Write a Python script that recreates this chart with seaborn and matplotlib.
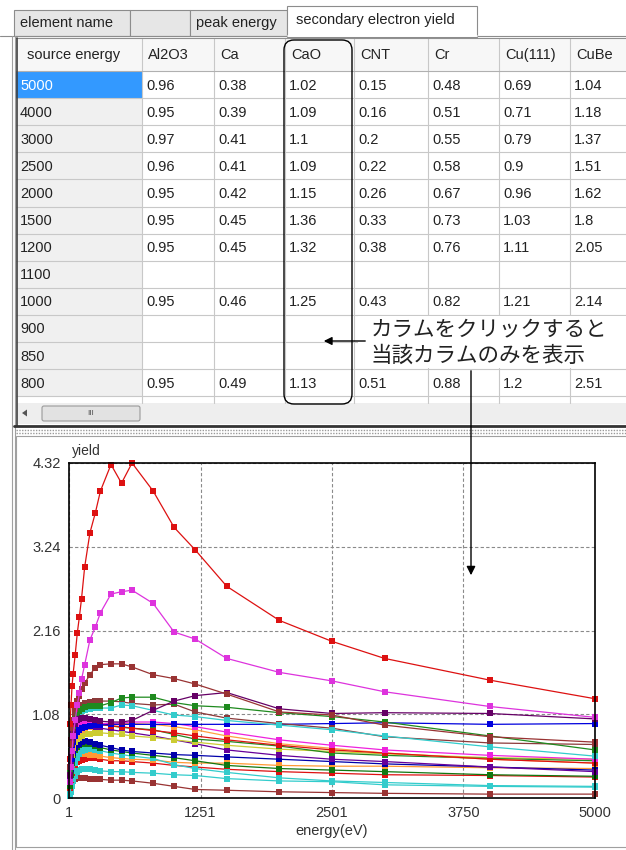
import matplotlib
matplotlib.use("Agg")
import matplotlib.pyplot as plt
from matplotlib.patches import Rectangle, FancyBboxPatch, FancyArrowPatch, Polygon
import pandas as pd
import seaborn as sns

# energies of the measured points (eV)
energy = [10, 20, 30, 40, 60, 80, 100, 120, 150, 200, 250, 300, 400, 500, 600,
          800, 1000, 1200, 1500, 2000, 2500, 3000, 4000, 5000]

al2o3 = [0.30, 0.50, 0.65, 0.72, 0.80, 0.85, 0.88, 0.90, 0.92, 0.93, 0.94, 0.94, 0.95, 0.95, 0.95,
         0.95, 0.95, 0.95, 0.95, 0.95, 0.96, 0.97, 0.95, 0.96]
ca = [0.20, 0.35, 0.45, 0.50, 0.55, 0.57, 0.58, 0.58, 0.57, 0.56, 0.55, 0.54, 0.52, 0.51, 0.50,
      0.49, 0.46, 0.45, 0.45, 0.42, 0.41, 0.41, 0.39, 0.38]
cao = [0.30, 0.55, 0.75, 0.85, 0.95, 1.00, 1.02, 1.03, 1.03, 1.02, 1.00, 0.99, 0.98, 0.98, 1.00,
       1.13, 1.25, 1.32, 1.36, 1.15, 1.09, 1.10, 1.09, 1.02]
cnt = [0.05, 0.15, 0.25, 0.35, 0.45, 0.52, 0.57, 0.60, 0.62, 0.63, 0.62, 0.61, 0.58, 0.56, 0.54,
       0.51, 0.43, 0.38, 0.33, 0.26, 0.22, 0.20, 0.16, 0.15]
cr = [0.30, 0.50, 0.65, 0.75, 0.85, 0.90, 0.93, 0.95, 0.96, 0.97, 0.96, 0.95, 0.93, 0.91, 0.90,
      0.88, 0.82, 0.76, 0.73, 0.67, 0.58, 0.55, 0.51, 0.48]
cu111 = [0.40, 0.70, 0.90, 1.00, 1.10, 1.15, 1.18, 1.20, 1.22, 1.24, 1.25, 1.25, 1.25, 1.24, 1.22,
         1.20, 1.21, 1.11, 1.03, 0.96, 0.90, 0.79, 0.71, 0.69]
cube = [0.20, 0.40, 0.60, 0.80, 1.00, 1.20, 1.35, 1.53, 1.72, 2.04, 2.20, 2.39, 2.63, 2.66, 2.68,
        2.51, 2.14, 2.05, 1.80, 1.62, 1.51, 1.37, 1.18, 1.04]
red_top = [0.95, 1.20, 1.45, 1.60, 1.85, 2.13, 2.34, 2.57, 2.98, 3.42, 3.67, 3.96, 4.30, 4.06, 4.32,
           3.96, 3.49, 3.20, 2.73, 2.29, 2.02, 1.80, 1.52, 1.28]
maroon = [0.40, 0.70, 0.90, 1.00, 1.15, 1.25, 1.32, 1.40, 1.48, 1.59, 1.68, 1.72, 1.73, 1.73, 1.69,
          1.59, 1.54, 1.47, 1.34, 1.11, 1.07, 0.94, 0.79, 0.72]
teal_upper = [0.30, 0.55, 0.75, 0.88, 1.00, 1.06, 1.10, 1.12, 1.14, 1.15, 1.16, 1.16, 1.16, 1.20, 1.19,
              1.13, 1.07, 1.05, 1.00, 0.94, 0.88, 0.80, 0.66, 0.54]
green_top = [0.35, 0.60, 0.80, 0.92, 1.02, 1.08, 1.12, 1.15, 1.17, 1.19, 1.19, 1.19, 1.23, 1.29, 1.30,
             1.30, 1.23, 1.19, 1.17, 1.10, 1.05, 0.98, 0.80, 0.62]
teal_lower = [0.02, 0.08, 0.15, 0.22, 0.28, 0.33, 0.36, 0.38, 0.38, 0.37, 0.36, 0.35, 0.34, 0.34, 0.33,
              0.32, 0.30, 0.29, 0.25, 0.22, 0.21, 0.17, 0.15, 0.14]
brown_bottom = [0.05, 0.12, 0.18, 0.22, 0.25, 0.26, 0.26, 0.26, 0.26, 0.25, 0.24, 0.24, 0.23, 0.23, 0.22,
                0.19, 0.15, 0.11, 0.10, 0.08, 0.07, 0.06, 0.05, 0.05]
red_lower = [0.10, 0.20, 0.30, 0.37, 0.42, 0.46, 0.48, 0.49, 0.50, 0.51, 0.51, 0.50, 0.48, 0.48, 0.47,
             0.45, 0.42, 0.40, 0.37, 0.34, 0.32, 0.30, 0.29, 0.27]
orange = [0.30, 0.50, 0.62, 0.70, 0.78, 0.83, 0.86, 0.88, 0.90, 0.92, 0.94, 0.95, 0.96, 0.96, 0.96,
          0.95, 0.92, 0.88, 0.80, 0.70, 0.64, 0.58, 0.50, 0.45]
violet = [0.25, 0.45, 0.60, 0.70, 0.80, 0.85, 0.88, 0.90, 0.92, 0.93, 0.92, 0.90, 0.88, 0.86, 0.84,
          0.80, 0.75, 0.70, 0.62, 0.55, 0.50, 0.47, 0.40, 0.34]
pink = [0.30, 0.55, 0.72, 0.82, 0.90, 0.94, 0.96, 0.97, 0.98, 0.98, 0.97, 0.96, 0.96, 0.97, 0.98,
        0.98, 0.96, 0.92, 0.85, 0.75, 0.68, 0.62, 0.55, 0.50]
olive = [0.20, 0.40, 0.55, 0.65, 0.72, 0.76, 0.78, 0.80, 0.82, 0.83, 0.84, 0.84, 0.83, 0.82, 0.80,
         0.78, 0.75, 0.72, 0.68, 0.63, 0.60, 0.57, 0.52, 0.50]
dark_green = [0.15, 0.30, 0.45, 0.55, 0.62, 0.66, 0.68, 0.70, 0.70, 0.69, 0.67, 0.65, 0.62, 0.60, 0.58,
              0.55, 0.52, 0.48, 0.42, 0.38, 0.36, 0.34, 0.30, 0.28]
red_mid = [0.50, 0.75, 0.88, 0.94, 0.98, 1.00, 1.00, 0.99, 0.98, 0.97, 0.96, 0.95, 0.93, 0.92, 0.90,
           0.87, 0.84, 0.80, 0.75, 0.68, 0.62, 0.58, 0.50, 0.45]
navy = [0.20, 0.38, 0.50, 0.58, 0.64, 0.68, 0.70, 0.72, 0.73, 0.72, 0.70, 0.68, 0.65, 0.62, 0.60,
        0.58, 0.56, 0.55, 0.53, 0.50, 0.47, 0.44, 0.40, 0.36]

# table part
table_energy = [5000, 4000, 3000, 2500, 2000, 1500, 1200, 1100, 1000, 900, 850, 800]
table_columns = ["Al2O3", "Ca", "CaO", "CNT", "Cr", "Cu(111)", "CuBe"]
table_series = [al2o3, ca, cao, cnt, cr, cu111, cube]
tab_labels = ["element name", "", "peak energy"]
x_ticks = [1, 1251, 2501, 3750, 5000]
y_ticks = [0, 1.08, 2.16, 3.24, 4.32]
y_tick_labels = ["0", "1.08", "2.16", "3.24", "4.32"]

# drawing order (last drawn on top) and colours
curves = [
    ("brown_bottom", brown_bottom, "#993333"),
    ("teal_lower", teal_lower, "#33cccc"),
    ("red_lower", red_lower, "#dd1111"),
    ("ca", ca, "#ff9933"),
    ("cnt", cnt, "#33cccc"),
    ("dark_green", dark_green, "#117711"),
    ("navy", navy, "#0000aa"),
    ("violet", violet, "#660099"),
    ("olive", olive, "#cccc33"),
    ("cr", cr, "#228822"),
    ("orange", orange, "#ffa040"),
    ("red_mid", red_mid, "#dd1111"),
    ("pink", pink, "#ee22dd"),
    ("al2o3", al2o3, "#0000dd"),
    ("cu111", cu111, "#8b3a3a"),
    ("teal_upper", teal_upper, "#33cccc"),
    ("green_top", green_top, "#1e8a1e"),
    ("cao", cao, "#660066"),
    ("maroon", maroon, "#993333"),
    ("cube", cube, "#dd33dd"),
    ("red_top", red_top, "#dd1111"),
]

frames = [pd.DataFrame({"energy": energy, "yield": vals, "series": name}) for name, vals, _ in curves]
df = pd.concat(frames, ignore_index=True)
palette = {name: col for name, _, col in curves}

sns.set_style("white")
plt.rcParams["font.family"] = ["Liberation Sans", "Noto Sans CJK JP", "DejaVu Sans"]

fig = plt.figure(figsize=(6.26, 8.5), dpi=100)
FS = 10.5

# ---- GUI background drawn in pixel coordinates
gui = fig.add_axes([0, 0, 1, 1], zorder=0)
gui.set_xlim(0, 626)
gui.set_ylim(850, 0)
gui.axis("off")

grey = "#8c8c8c"
tab_edges = [14, 130, 190, 287]
for lab, x0, x1 in zip(tab_labels, tab_edges[:-1], tab_edges[1:]):
    gui.add_patch(Rectangle((x0, 10), x1 - x0, 26, fc="#e6e6e6", ec=grey, lw=0.8))
    gui.text(x0 + 6, 23, lab, va="center", ha="left", fontsize=FS, color="#222222")
gui.add_patch(Rectangle((287, 6), 190, 31, fc="white", ec=grey, lw=0.8))
gui.text(296, 20, "secondary electron yield", va="center", ha="left", fontsize=FS, color="#222222")
gui.plot([0, 287], [36, 36], color=grey, lw=0.8)
gui.plot([477, 626], [36, 36], color=grey, lw=0.8)
gui.plot([287.5, 476.5], [36, 36], color="white", lw=1.2)

# left double border
gui.plot([12, 12], [36, 850], color="#a0a0a0", lw=0.8)
gui.plot([15, 15], [36, 850], color="#a0a0a0", lw=0.8)

# table
col_edges = [16, 142, 214, 285, 354, 428, 499, 570, 640]
header_top, header_bot, row_h = 38, 71, 27.1
table_bot = 403
gui.add_patch(Rectangle((16, header_top), 610, table_bot - header_top, fc="white", ec="none"))
gui.add_patch(Rectangle((16, header_top), 610, header_bot - header_top, fc="#f7f7f7", ec="none"))
for i, e in enumerate(table_energy):
    y0 = header_bot + i * row_h
    fc = "#3399ff" if i == 0 else "#f0f0f0"
    gui.add_patch(Rectangle((16, y0), 126, row_h, fc=fc, ec="none"))
    gui.text(20, y0 + row_h / 2 + 1, str(e), va="center", ha="left", fontsize=FS,
             color="white" if i == 0 else "#222222")
    for j, vals in enumerate(table_series):
        lookup = dict(zip(energy, vals))
        if e in lookup:
            gui.text(col_edges[j + 1] + 4, y0 + row_h / 2 + 1, f"{lookup[e]:g}", va="center",
                     ha="left", fontsize=FS, color="#222222")
    gui.plot([16, 626], [y0 + row_h, y0 + row_h], color="#c8c8c8", lw=0.8)
gui.text(27, (header_top + header_bot) / 2, "source energy", va="center", ha="left", fontsize=FS,
         color="#222222")
for j, name in enumerate(table_columns):
    gui.text(col_edges[j + 1] + 6, (header_top + header_bot) / 2, name, va="center", ha="left",
             fontsize=FS, color="#222222")
for x in col_edges[1:-1]:
    gui.plot([x, x], [header_top, table_bot], color="#c8c8c8", lw=0.8)
gui.plot([16, 626], [header_bot, header_bot], color="#b0b0b0", lw=0.8)
gui.plot([16, 626], [header_top, header_top], color="#909090", lw=0.8)
gui.plot([16.5, 16.5], [header_top, 426], color="#404040", lw=1.2)

# scrollbar
gui.add_patch(Rectangle((17, table_bot), 609, 21, fc="#eeeeee", ec="none"))
gui.add_patch(Polygon([[22, 413], [27, 409.5], [27, 416.5]], closed=True, fc="#555555", ec="none"))
gui.add_patch(FancyBboxPatch((42, 406), 98, 15, boxstyle="round,pad=0,rounding_size=2",
                             fc="#e2e2e2", ec="#9a9a9a", lw=0.8))
gui.text(91, 413.5, "III", va="center", ha="center", fontsize=6, color="#555555")
gui.plot([14, 626], [426, 426], color="#333333", lw=2)
gui.plot([16, 626], [429.5, 429.5], color="#999999", lw=1, ls=(0, (1, 1)))
gui.plot([16, 626], [432.5, 432.5], color="#999999", lw=1, ls=(0, (1, 1)))

# chart panel
gui.add_patch(Rectangle((16, 436), 612, 411, fc="white", ec="#a0a0a0", lw=0.8))
gui.text(72, 458, "yield", va="bottom", ha="left", fontsize=10, color="#333333")

# ---- chart
ax = fig.add_axes([69 / 626, 52 / 850, 526 / 626, 335 / 850], zorder=2)
sns.lineplot(data=df, x="energy", y="yield", hue="series", hue_order=[c[0] for c in curves],
             palette=palette, marker="s", markersize=4.8, markeredgewidth=0, linewidth=0.9,
             errorbar=None, sort=False, legend=False, clip_on=False, ax=ax)
ax.set_xlim(1, 5000)
ax.set_ylim(0, 4.32)
ax.set_xticks(x_ticks)
ax.set_xticklabels([str(t) for t in x_ticks])
ax.set_yticks(y_ticks)
ax.set_yticklabels(y_tick_labels)
ax.grid(True, color="#8a8a8a", ls=(0, (3, 2)), lw=0.8)
ax.tick_params(length=0, pad=6, labelsize=10.5, colors="#333333")
ax.set_xlabel("energy(eV)", fontsize=10.5, color="#333333", labelpad=3)
ax.set_ylabel("")
for s in ax.spines.values():
    s.set_color("black")
    s.set_linewidth(1.2)

# ---- annotations on top
top = fig.add_axes([0, 0, 1, 1], zorder=3)
top.set_xlim(0, 626)
top.set_ylim(850, 0)
top.axis("off")
top.patch.set_alpha(0)
top.add_patch(Rectangle((358, 316), 268, 52, fc="white", ec="none"))
top.add_patch(FancyBboxPatch((289, 45), 58, 354, boxstyle="round,pad=5,rounding_size=10",
                             fc="none", ec="black", lw=1))
top.text(371, 329, "カラムをクリックすると", va="center", ha="left", fontsize=15.5,
         family=["Noto Sans CJK JP", "DejaVu Sans"], color="#222222")
top.text(371, 356, "当該カラムのみを表示", va="center", ha="left", fontsize=15.5,
         family=["Noto Sans CJK JP", "DejaVu Sans"], color="#222222")
top.add_patch(FancyArrowPatch((368, 341), (321, 341), arrowstyle="-|>", mutation_scale=12,
                              color="black", lw=1))
top.add_patch(FancyArrowPatch((471, 368), (471, 578), arrowstyle="-|>", mutation_scale=13,
                              color="black", lw=1))

fig.savefig("out.png", dpi=100)
